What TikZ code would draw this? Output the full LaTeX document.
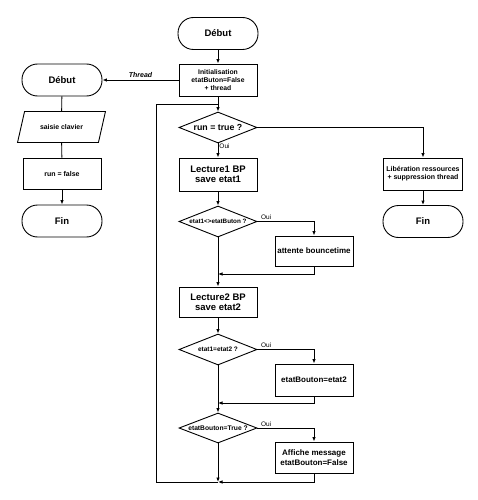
\documentclass[tikz,border=0pt]{standalone}
\usepackage{fontspec}
\setmainfont{Liberation Sans}
\usetikzlibrary{arrows.meta,shapes.geometric}
\newcommand{\fs}[2]{\fontsize{#1}{#2}\selectfont}
\begin{document}
\begin{tikzpicture}[x=1pt,y=-1pt,
  line width=0.9pt,
  arr/.style={-{Latex[length=4.5pt,width=3.5pt]}},
  term/.style={draw, rounded corners=15.5pt, minimum width=80pt, minimum height=32pt, inner sep=0pt, font=\bfseries\fs{9.5}{11}},
  proc/.style={draw, minimum width=78pt, minimum height=31pt, inner sep=1pt, align=center},
  dec/.style={draw, diamond, minimum width=78pt, minimum height=31pt, inner sep=0pt},
  oui/.style={font=\fs{6.5}{7}, inner sep=1pt}
]
\fill[white] (0,0) rectangle (478,500);
\useasboundingbox (0,0) rectangle (478,500);

% main column
\node[term] (debut) at (218,33.5) {Début};
\node[proc, minimum height=32pt, font=\bfseries\fs{6.8}{8}] (init) at (218,80) {Initialisation\\etatButon=False\\+ thread};
\node[dec] (d1) at (218,127.5) {\bfseries\fs{8.8}{10}\makebox[0pt]{run = true ?}};
\node[proc, minimum height=33pt, font=\bfseries\fs{9.5}{10.3}] (lec1) at (218,174.5) {Lecture1 BP\\save etat1};
\node[dec] (d2) at (218,221.5) {\bfseries\fs{6.3}{7}\makebox[0pt]{etat1<>etatButon ?}};
\node[proc, minimum height=30pt, font=\bfseries\fs{8}{9}] (att) at (314,251) {attente bouncetime};
\node[proc, minimum height=30pt, font=\bfseries\fs{9.5}{10.3}] (lec2) at (218,302) {Lecture2 BP\\save etat2};
\node[dec] (d3) at (218,349.5) {\bfseries\fs{6.5}{7}\makebox[0pt]{etat1=etat2 ?}};
\node[proc, minimum height=32pt, font=\bfseries\fs{8}{9}] (eb) at (314,380) {etatBouton=etat2};
\node[dec, minimum height=30pt] (d4) at (218,428) {\bfseries\fs{6.7}{7}\makebox[0pt]{etatBouton=True ?}};
\node[proc, font=\bfseries\fs{8}{9.5}] (aff) at (314,457.5) {Affiche message\\etatBouton=False};

% right column
\node[proc, minimum width=79pt, minimum height=32pt, font=\bfseries\fs{7}{8}] (lib) at (423,174) {Libération ressources\\+ suppression thread};
\node[term] (finr) at (423,221.5) {Fin};

% left column (thread)
\node[term] (debutl) at (62,80) {Début};
\node[minimum width=80pt, minimum height=30pt, inner sep=0pt, font=\bfseries\fs{6.9}{8}] (saisie) at (61.5,127) {saisie clavier};
\draw ([xshift=3.5pt]saisie.north west) -- ([xshift=3.5pt]saisie.north east)
  -- ([xshift=-3.5pt]saisie.south east) -- ([xshift=-3.5pt]saisie.south west) -- cycle;
\node[proc, font=\bfseries\fs{7}{8}] (runf) at (62,173.5) {run = false};
\node[term] (finl) at (62,221) {Fin};

% junction coordinates
\coordinate (j0) at (218,104);
\coordinate (j1) at (218,274);
\coordinate (j2) at (218,403);
\coordinate (j3) at (218,482);
\coordinate (lt) at (156,104);
\coordinate (lb) at (156,482);

% connectors main
\draw[arr] (debut) -- (init);
\draw[arr] (init.west) -- node[above=1.5pt, font=\bfseries\itshape\fs{7}{8}, inner sep=0pt] (thr) {Thread} (debutl.east);
\draw[arr] (init) -- (d1);
\draw[arr] (d1.east) -| (lib.north);
\draw[arr] (lib) -- (finr);
\draw[arr] (d1) -- node[oui, pos=0.2, anchor=west] (o1) {Oui} (lec1);
\draw[arr] (lec1) -- (d2);
\draw[arr] (d2.east) -| node[oui, pos=0.02, anchor=south west] (o2) {Oui} (att.north);
\draw[arr] (att.south) |- (j1);
\draw[arr] (d2) -- (lec2);
\draw[arr] (lec2) -- (d3);
\draw[arr] (d3.east) -| node[oui, pos=0.02, anchor=south west] (o3) {Oui} (eb.north);
\draw[arr] (eb.south) |- (j2);
\draw[arr] (d3) -- (d4);
\draw[arr] (d4.east) -| node[oui, pos=0.02, anchor=south west] (o4) {Oui} (aff.north);
\draw[arr] (aff.south) |- (j3);
\draw[arr] (d4) -- (j3);
\draw (j3) -- (lb) -- (lt) -- (j0);

% connectors left
\draw (debutl) -- (saisie);
\draw (saisie) -- (runf);
\draw[arr] (runf) -- (finl);
\end{tikzpicture}
\end{document}
